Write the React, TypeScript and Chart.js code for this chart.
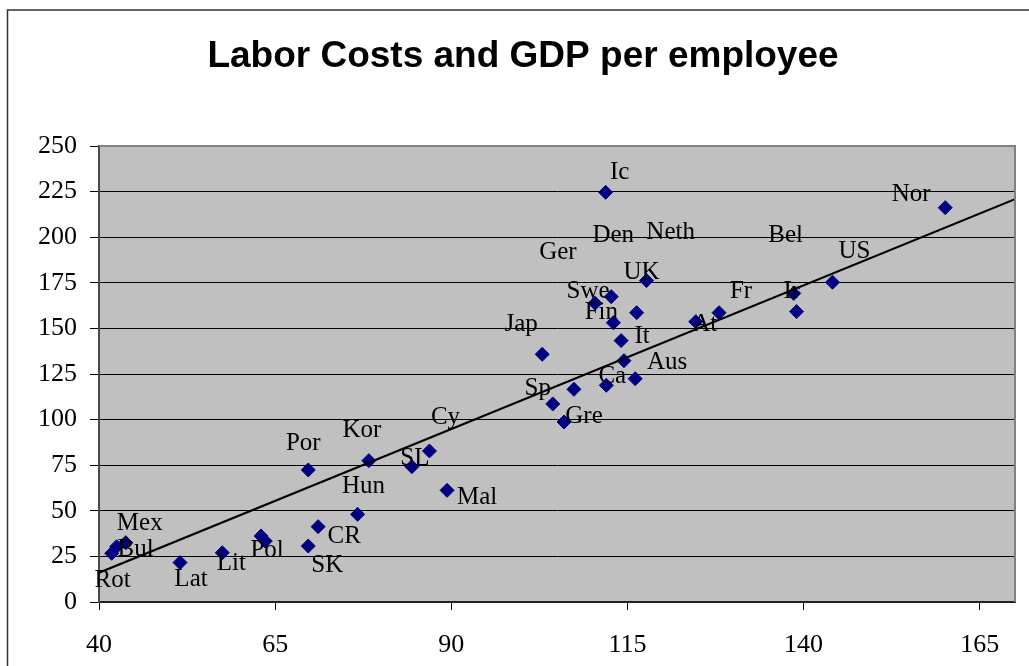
import { useEffect, useRef } from "react";
import { Chart, registerables } from "chart.js";

Chart.register(...registerables);

// Country codes, GDP per employee (x) and labor costs (y)
const countries = [
  "Rot", "Bul", "Mex", "Lat", "Lit", "Pol", "", "Por", "SK", "CR",
  "Hun", "Kor", "SL", "Cy", "Mal", "Jap", "Sp", "Gre", "Ger", "Ca",
  "", "Aus", "It", "Fin", "Den", "Swe", "Neth", "UK", "Ic", "At",
  "Fr", "Ir", "Bel", "US", "Nor",
];
const gdpPerEmployee = [
  41.8, 42.5, 43.8, 51.5, 57.5, 63.0, 63.6, 69.7, 69.7, 71.1,
  76.7, 78.3, 84.4, 86.9, 89.4, 102.9, 104.4, 106.0, 107.4, 112.0,
  114.5, 116.1, 114.1, 113.0, 112.7, 110.4, 116.3, 117.7, 111.9, 124.7,
  128.0, 138.6, 139.0, 144.1, 160.1,
];
const laborCosts = [
  26.7, 30.3, 32.5, 21.6, 27.0, 36.2, 33.4, 72.4, 30.7, 41.3,
  48.1, 77.5, 74.2, 82.8, 61.2, 135.8, 108.6, 98.7, 116.6, 118.8,
  132.3, 122.4, 143.3, 153.1, 167.4, 163.8, 158.6, 176.2, 224.6, 153.7,
  158.6, 169.2, 159.2, 175.3, 216.2,
];

const xTickValues = [40, 65, 90, 115, 140, 165];
const yTickValues = [0, 25, 50, 75, 100, 125, 150, 175, 200, 225, 250];

// Linear trend line: y = slope * x + intercept over the x range
const trendSlope = 1.575;
const trendIntercept = -46.9;
const trendRange = [40, 170];

// Pixel offsets of each data label relative to its marker
const labelOffsets: [number, number][] = [
  [1, 27], [19, 3], [14, -19], [11, 17], [9, 11], [6, 14], [0, 0], [-5, -27], [19, 19], [26, 10],
  [6, -28], [-7, -30], [3, -8], [16, -34], [30, 7], [-21, -30], [-15, -15], [20, -6], [-16, -137], [6, -9],
  [0, 0], [32, -16], [21, -4], [-12, -10], [2, -61], [-7, -12], [34, -80], [-5, -8], [14, -20], [9, 3],
  [22, -21], [-2, -2], [-11, -76], [22, -31], [-34, -13],
];

const serif = "'Liberation Serif', 'Times New Roman', serif";
const sans = "'Liberation Sans', Arial, sans-serif";

const framePlugin = {
  id: "frame",
  beforeDraw(chart: any) {
    const { ctx, chartArea } = chart;
    ctx.save();
    ctx.fillStyle = "#ffffff";
    ctx.fillRect(0, 0, chart.width, chart.height);
    ctx.fillStyle = "#c0c0c0";
    ctx.fillRect(chartArea.left, chartArea.top, chartArea.right - chartArea.left, chartArea.bottom - chartArea.top);
    ctx.restore();
  },
  afterDatasetsDraw(chart: any) {
    const { ctx } = chart;
    const meta = chart.getDatasetMeta(1);
    ctx.save();
    ctx.fillStyle = "#000000";
    ctx.font = `25px ${serif}`;
    ctx.textAlign = "center";
    ctx.textBaseline = "middle";
    meta.data.forEach((pt: any, i: number) => {
      const name = countries[i];
      if (!name) return;
      const [dx, dy] = labelOffsets[i];
      ctx.fillText(name, pt.x + dx, pt.y + dy);
    });
    ctx.restore();
  },
  afterDraw(chart: any) {
    const { ctx, chartArea } = chart;
    ctx.save();
    // plot area border (top and right)
    ctx.strokeStyle = "#808080";
    ctx.lineWidth = 2;
    ctx.beginPath();
    ctx.moveTo(chartArea.left, chartArea.top);
    ctx.lineTo(chartArea.right, chartArea.top);
    ctx.lineTo(chartArea.right, chartArea.bottom);
    ctx.stroke();
    // outer chart border
    ctx.strokeStyle = "#333333";
    ctx.lineWidth = 1.5;
    ctx.beginPath();
    ctx.moveTo(7.5, chart.height + 2);
    ctx.lineTo(7.5, 10);
    ctx.lineTo(chart.width + 2, 10);
    ctx.stroke();
    // title
    ctx.fillStyle = "#000000";
    ctx.font = `bold 37px ${sans}`;
    ctx.textAlign = "center";
    ctx.textBaseline = "alphabetic";
    ctx.fillText("Labor Costs and GDP per employee", 523, 66.7);
    ctx.restore();
  },
};

export default function App() {
  const canvasRef = useRef<HTMLCanvasElement | null>(null);

  useEffect(() => {
    if (!canvasRef.current) return;
    const points = gdpPerEmployee.map((x, i) => ({ x, y: laborCosts[i] }));
    const trend = trendRange.map((x) => ({ x, y: trendSlope * x + trendIntercept }));

    const chart = new Chart(canvasRef.current, {
      type: "scatter",
      data: {
        datasets: [
          {
            label: "Linear trend",
            data: trend,
            showLine: true,
            borderColor: "#000000",
            borderWidth: 2.2,
            pointRadius: 0,
            fill: false,
          },
          {
            label: "Countries",
            data: points,
            pointStyle: "rectRot",
            pointRadius: 7,
            pointBackgroundColor: "#000080",
            pointBorderColor: "#000080",
            pointBorderWidth: 1,
          },
        ],
      },
      options: {
        animation: false,
        responsive: false,
        maintainAspectRatio: false,
        layout: { padding: { top: 146, right: 14, left: 0, bottom: 0 } },
        plugins: {
          legend: { display: false },
          tooltip: { enabled: false },
          title: { display: false },
        },
        scales: {
          x: {
            type: "linear",
            min: 40,
            max: 170,
            afterBuildTicks: (scale: any) => {
              scale.ticks = xTickValues.map((value) => ({ value }));
            },
            afterFit: (scale: any) => {
              scale.height = 64;
            },
            grid: {
              drawOnChartArea: false,
              drawTicks: true,
              tickLength: 8,
              tickColor: "#000000",
              lineWidth: 1,
            },
            border: { display: true, color: "#222222", width: 2 },
            ticks: {
              color: "#000000",
              font: { family: serif, size: 26 },
              padding: 20,
              maxRotation: 0,
            },
          },
          y: {
            type: "linear",
            min: 0,
            max: 250,
            afterBuildTicks: (scale: any) => {
              scale.ticks = yTickValues.map((value) => ({ value }));
            },
            afterFit: (scale: any) => {
              scale.width = 99;
            },
            grid: {
              drawOnChartArea: true,
              drawTicks: true,
              tickLength: 9,
              tickColor: "#000000",
              color: "#000000",
              lineWidth: 1,
            },
            border: { display: true, color: "#4a4a4a", width: 2 },
            ticks: {
              color: "#000000",
              font: { family: serif, size: 26 },
              padding: 13,
            },
          },
        },
      },
      plugins: [framePlugin],
    });

    return () => chart.destroy();
  }, []);

  return (
    <div style={{ position: "fixed", left: 0, top: 0, width: 1029, height: 666, background: "#ffffff" }}>
      <canvas ref={canvasRef} width={1029} height={666} style={{ display: "block", width: 1029, height: 666 }} />
    </div>
  );
}
